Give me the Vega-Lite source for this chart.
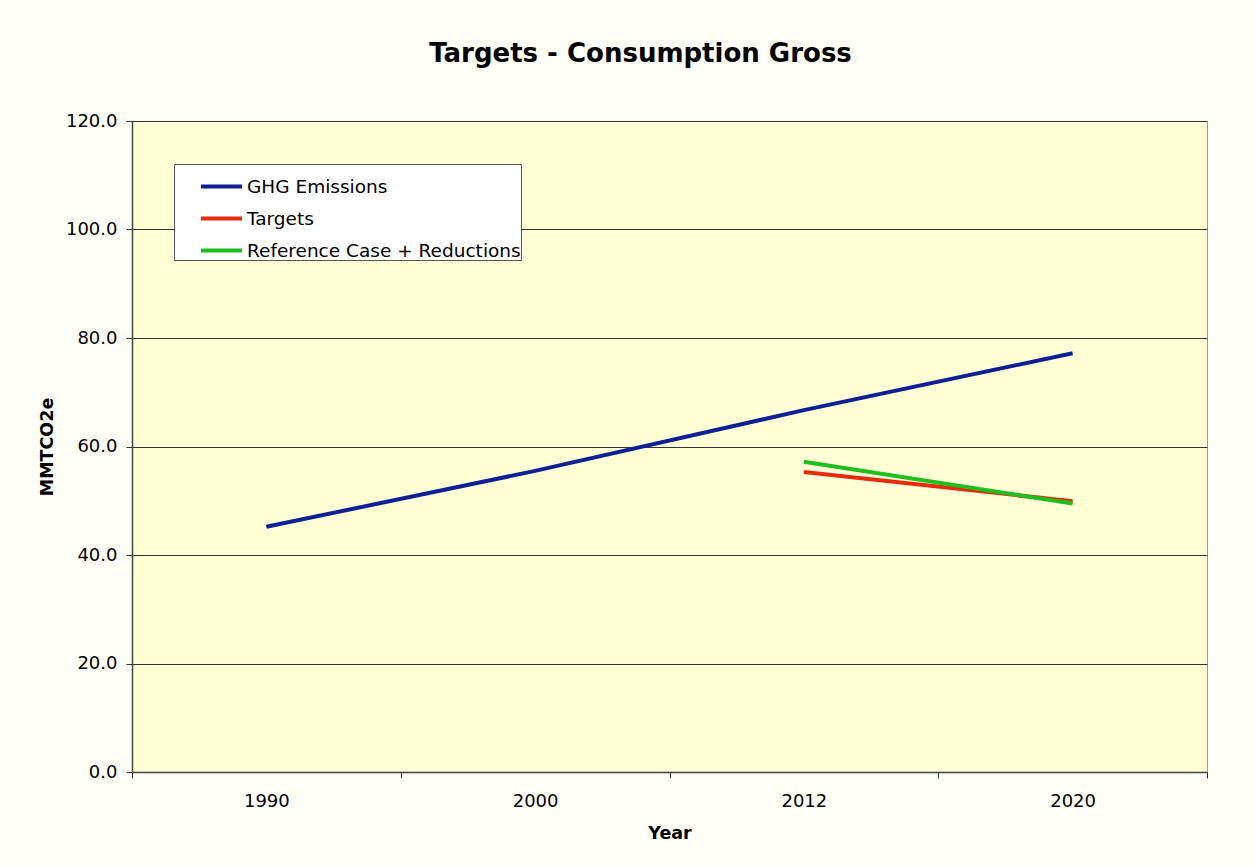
{
  "$schema": "https://vega.github.io/schema/vega-lite/v6.json",
  "autosize": {"type": "none"},
  "padding": {"left": 132, "top": 121, "right": 47, "bottom": 95},
  "width": 1075,
  "height": 651,
  "background": "#fffef7",
  "title": {
    "text": "Targets - Consumption Gross",
    "font": "DejaVu Sans",
    "fontSize": 26,
    "fontWeight": "bold",
    "color": "#000000",
    "anchor": "middle",
    "frame": "group",
    "dx": -29,
    "baseline": "alphabetic",
    "offset": 24
  },
  "data": {
    "values": [
      {"Year": "1990", "Series": "GHG Emissions", "Value": 45.2},
      {"Year": "2000", "Series": "GHG Emissions", "Value": 55.5},
      {"Year": "2012", "Series": "GHG Emissions", "Value": 66.7},
      {"Year": "2020", "Series": "GHG Emissions", "Value": 77.2},
      {"Year": "2012", "Series": "Targets", "Value": 55.3},
      {"Year": "2020", "Series": "Targets", "Value": 49.9},
      {"Year": "2012", "Series": "Reference Case + Reductions", "Value": 57.2},
      {"Year": "2020", "Series": "Reference Case + Reductions", "Value": 49.5}
    ]
  },
  "mark": {"type": "line", "strokeWidth": 4, "strokeCap": "butt"},
  "encoding": {
    "x": {
      "field": "Year",
      "type": "ordinal",
      "sort": ["1990", "2000", "2012", "2020"],
      "scale": {"paddingInner": 0, "paddingOuter": 0},
      "axis": {
        "title": "Year",
        "labelAngle": 0,
        "tickBand": "extent",
        "tickSize": 6,
        "labelPadding": 14,
        "titlePadding": 14
      }
    },
    "y": {
      "field": "Value",
      "type": "quantitative",
      "scale": {"domain": [0, 120], "nice": false},
      "axis": {
        "title": "MMTCO2e",
        "values": [0, 20, 40, 60, 80, 100, 120],
        "format": ".1f",
        "grid": true,
        "tickSize": 6,
        "labelPadding": 9,
        "titlePadding": 9
      }
    },
    "color": {
      "field": "Series",
      "type": "nominal",
      "sort": ["GHG Emissions", "Targets", "Reference Case + Reductions"],
      "scale": {
        "domain": ["GHG Emissions", "Targets", "Reference Case + Reductions"],
        "range": ["#0f2096", "#e62a0d", "#1fbf1f"]
      },
      "legend": {
        "title": null,
        "orient": "none",
        "legendX": 42,
        "legendY": 43,
        "symbolType": "stroke",
        "symbolSize": 1681,
        "symbolStrokeWidth": 4,
        "symbolOffset": 25,
        "labelOffset": 3,
        "labelFontSize": 18.5,
        "labelFont": "DejaVu Sans",
        "labelColor": "#000000",
        "labelLimit": 400,
        "rowPadding": -3,
        "padding": 0,
        "fillColor": "#ffffff",
        "strokeColor": "#555555"
      }
    }
  },
  "config": {
    "font": "DejaVu Sans",
    "view": {"fill": "#ffffd6", "stroke": "#999999", "strokeWidth": 1},
    "axis": {
      "labelFont": "DejaVu Sans",
      "labelFontSize": 18,
      "labelColor": "#000000",
      "titleFont": "DejaVu Sans",
      "titleFontSize": 17.5,
      "titleFontWeight": "bold",
      "titleColor": "#000000",
      "domainColor": "#444444",
      "domainWidth": 1.5,
      "tickColor": "#333333",
      "tickWidth": 1,
      "gridColor": "#333333",
      "gridWidth": 1,
      "gridOpacity": 1
    }
  }
}
